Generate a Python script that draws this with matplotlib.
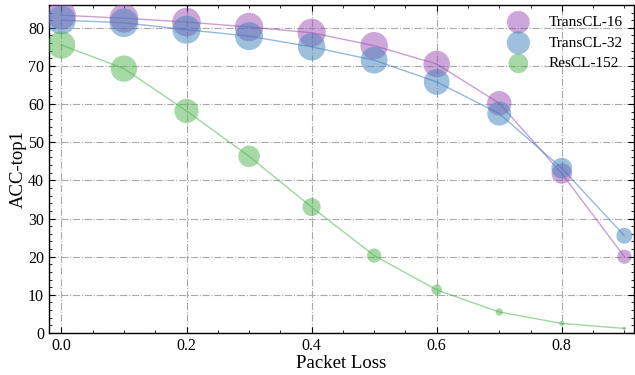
import matplotlib.pyplot as plt
from matplotlib.ticker import MultipleLocator

loss = [0.0, 0.1, 0.2, 0.3, 0.4, 0.5, 0.6, 0.7, 0.8, 0.9]
transcl16 = [83.3, 82.5, 81.5, 80.2, 78.7, 75.3, 70.5, 60.2, 41.8, 20.0]
transcl32 = [82.0, 81.3, 79.5, 77.8, 75.0, 71.5, 65.8, 57.5, 43.2, 25.5]
rescl152 = [75.5, 69.3, 58.2, 46.3, 33.0, 20.3, 11.3, 5.5, 2.5, 1.2]

names = ['TransCL-16', 'TransCL-32', 'ResCL-152']
colors = ['#9d50b4', '#4082bd', '#50b450']

plt.rcParams['font.family'] = ['Liberation Serif', 'DejaVu Serif']
plt.rcParams['mathtext.fontset'] = 'stix'

fig = plt.figure(figsize=(6.35, 3.75), dpi=100)
ax = fig.add_axes([0.077, 0.112, 0.921, 0.875])

for name, vals, c in zip(names, [transcl16, transcl32, rescl152], colors):
    ax.plot(loss, vals, color=c, alpha=0.55, lw=1.0, zorder=2)
    ax.scatter(loss, vals, s=[v * 5.2 for v in vals], color=c, alpha=0.5,
               edgecolors='none', label=name, zorder=3)

ax.set_xlim(-0.02, 0.915)
ax.set_ylim(0, 86)
ax.xaxis.set_major_locator(MultipleLocator(0.2))
ax.xaxis.set_minor_locator(MultipleLocator(0.05))
ax.yaxis.set_major_locator(MultipleLocator(10))
ax.yaxis.set_minor_locator(MultipleLocator(2))
ax.tick_params(which='both', direction='in', top=True, right=True, labelsize=11.5)
ax.tick_params(which='major', length=4, width=0.8)
ax.tick_params(which='minor', length=2, width=0.6)
for sp in ax.spines.values():
    sp.set_linewidth(1.0)

ax.grid(True, which='major', linestyle='-.', color='#a8a8a8', lw=0.8)
ax.set_axisbelow(True)

ax.set_xlabel('Packet Loss', fontsize=13.5, labelpad=1)
ax.set_ylabel('ACC-top1', fontsize=13.5, labelpad=1)
ax.legend(loc='upper right', frameon=False, fontsize=11, handletextpad=1.0,
          borderaxespad=0.3, labelspacing=0.45)

plt.savefig('out.png', dpi=100)
